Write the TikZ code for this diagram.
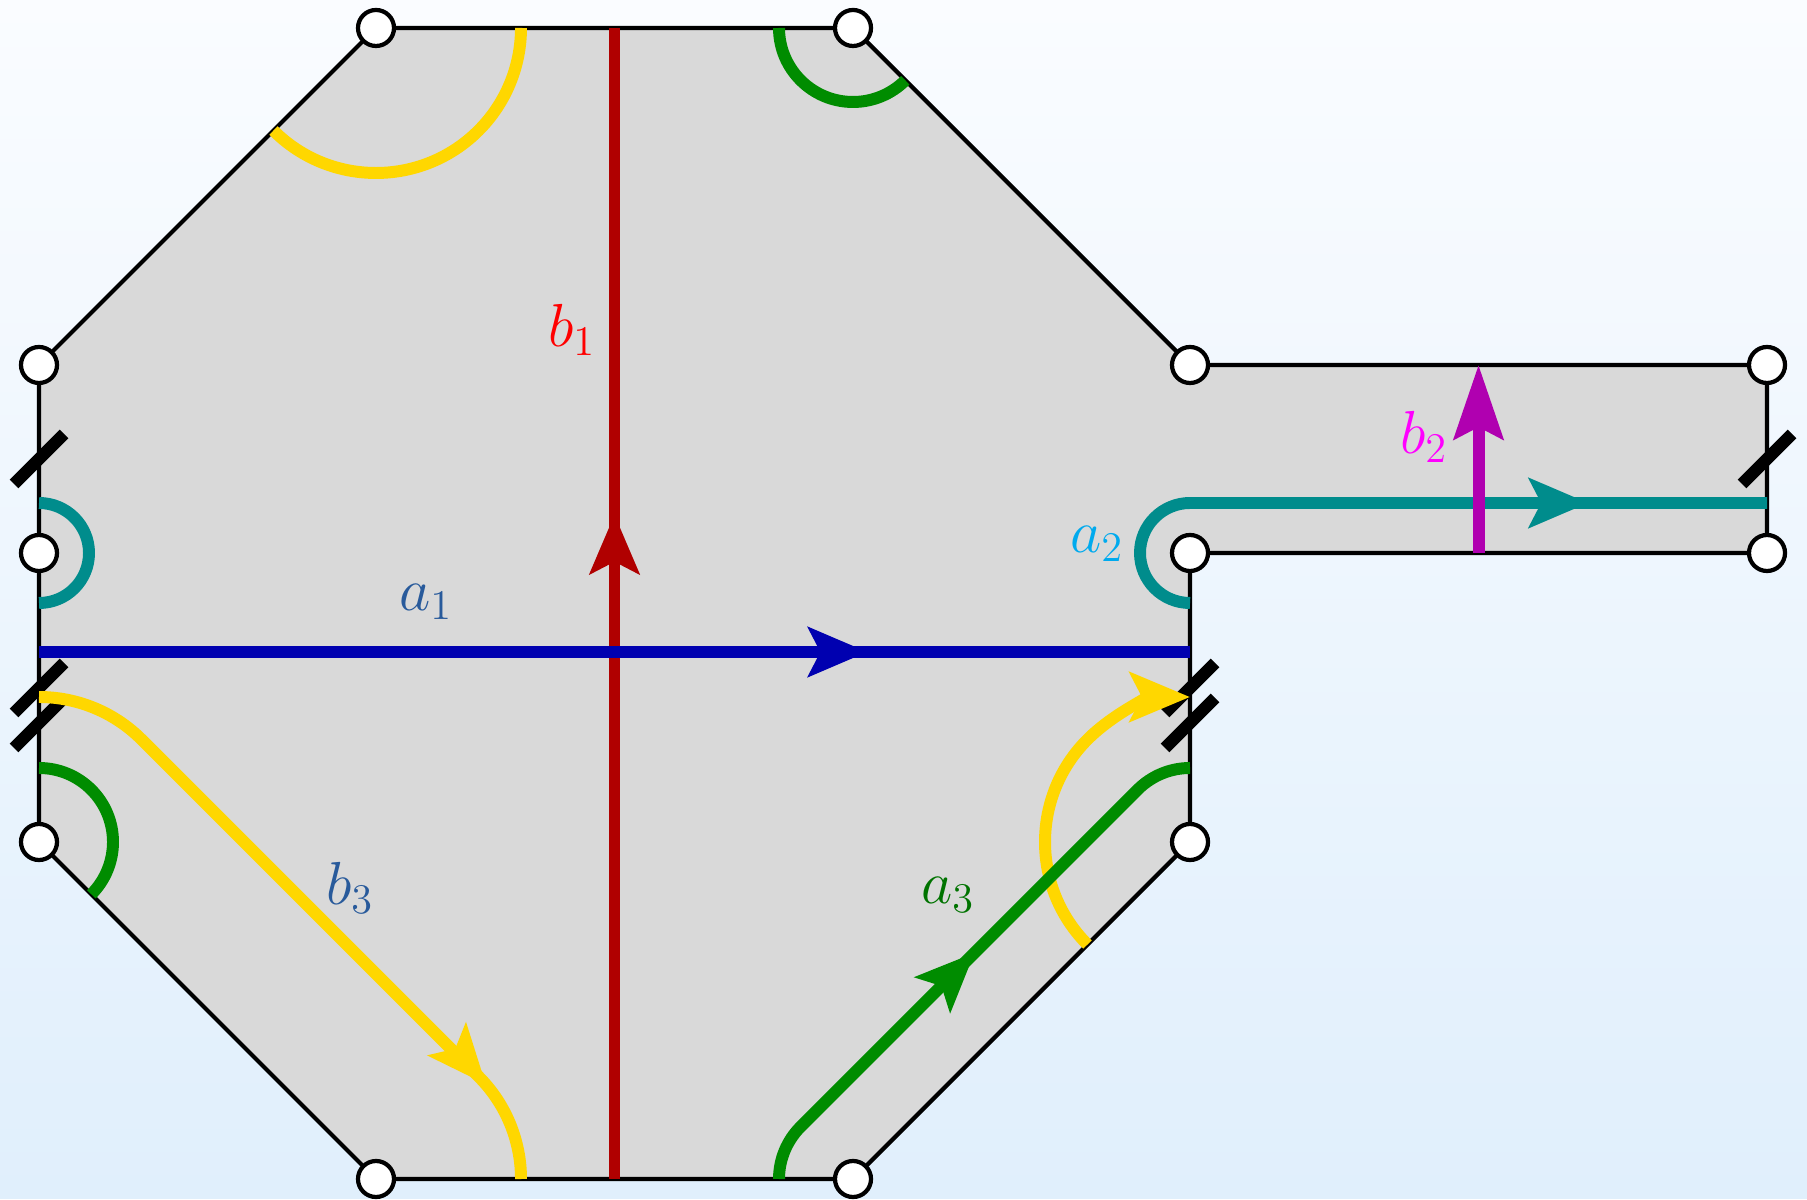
\documentclass[tikz,border=0pt]{standalone}
\usetikzlibrary{arrows.meta,calc,decorations.markings}
\definecolor{bgtop}{RGB}{250,252,255}
\definecolor{bgbot}{RGB}{224,239,252}
\definecolor{surf}{RGB}{217,217,217}
\definecolor{redl}{RGB}{176,0,0}
\definecolor{bluel}{RGB}{0,0,176}
\definecolor{tealc}{RGB}{0,140,140}
\definecolor{magl}{RGB}{176,0,176}
\definecolor{yel}{RGB}{255,215,0}
\definecolor{grn}{RGB}{0,140,0}
\definecolor{txtred}{RGB}{255,0,0}
\definecolor{txtmag}{RGB}{255,0,255}
\definecolor{txtblue}{RGB}{40,90,155}
\definecolor{txtcyan}{RGB}{0,170,238}
\definecolor{txtgreen}{RGB}{0,115,0}

\begin{document}
\begin{tikzpicture}[x=0.01cm,y=0.01cm,
  edge/.style={draw=black,line width=1.2pt,line join=round},
  curve/.style={line width=3.4pt},
  tick/.style={line width=3.5pt},
  vtx/.style={circle,draw,fill=white,line width=1.2pt,inner sep=0pt,minimum size=0.36cm},
  lbl/.style={inner sep=0pt,font=\fontsize{17}{20}\selectfont},
  Flow/.tip={Stealth[length=5.9mm,width=4.9mm,inset=1.2mm]},
  mid/.style={postaction={decorate},decoration={markings,mark=at position #1 with {\arrow{Flow}}}}]
\shade[top color=bgtop,bottom color=bgbot] (0,0) rectangle (1807,1198);

% corners of the surface
\coordinate (A) at (376,1170); \coordinate (B) at (853,1170);
\coordinate (C) at (39,833);   \coordinate (D) at (1190,833);
\coordinate (E) at (1767,833); \coordinate (F) at (1767,645);
\coordinate (G) at (1190,645); \coordinate (H) at (39,645);
\coordinate (I) at (39,356);   \coordinate (J) at (1190,356);
\coordinate (K) at (376,19);   \coordinate (L) at (853,19);

\fill[surf] (A)--(B)--(D)--(E)--(F)--(G)--(J)--(L)--(K)--(I)--(H)--(C)--cycle;
\draw[edge] (A)--(B)--(D)--(E)--(F)--(G)--(J)--(L)--(K)--(I)--(H)--(C)--cycle;

% gluing marks
\foreach \x/\y in {39/739,1767/739,39/510,39/475,1190/510,1190/475}
  \draw[tick] (\x-25,\y-25) -- (\x+25,\y+25);

% b3
\draw[curve,yel] (A) ++(225:145) arc[start angle=225,end angle=360,radius=145];
\draw[curve,yel,mid=6.0cm] (I) ++(0,145) arc[start angle=90,end angle=45,radius=145]
  -- ($(K)+(45:145)$) arc[start angle=45,end angle=0,radius=145];
\draw[curve,yel,-{Stealth[length=6mm,width=4.9mm,inset=1.2mm]}] (J) ++(225:145) arc[start angle=225,end angle=90,radius=145];
% a3
\draw[curve,grn] (B) ++(-74,0) arc[start angle=180,end angle=315,radius=74];
\draw[curve,grn] (I) ++(0,74) arc[start angle=90,end angle=-45,radius=74];
\draw[curve,grn,mid=3.04cm] (L) ++(-74,0) arc[start angle=180,end angle=135,radius=74]
  -- ($(J)+(135:74)$) arc[start angle=135,end angle=90,radius=74];
% a2, b2
\draw[curve,tealc] (H) ++(0,50) arc[start angle=90,end angle=-90,radius=50];
\draw[curve,tealc,mid=5.55cm] (G) ++(0,-50) arc[start angle=270,end angle=90,radius=50] -- (1767,695);
\draw[curve,magl,-{Stealth[length=7.4mm,width=4.9mm,inset=1.2mm]}] ($(G)!0.5!(F)$) -- ($(D)!0.5!(E)$);
% b1, a1
\draw[curve,redl,mid=6.64cm] ($(K)!0.5!(L)$) -- ($(A)!0.5!(B)$);
\draw[curve,bluel,mid=8.28cm] (39,546) -- (1190,546);

\node[lbl,text=txtred] (lb1) at (572,868) {$b_1$};
\node[lbl,text=txtblue] (la1) at (426,596) {$a_1$};
\node[lbl,text=txtcyan] (la2) at (1097,654) {$a_2$};
\node[lbl,text=txtmag] (lb2) at (1424,761) {$b_2$};
\node[lbl,text=txtblue] (lb3) at (350,310) {$b_3$};
\node[lbl,text=txtgreen] (la3) at (948,303) {$a_3$};

\foreach \v in {A,B,C,D,E,F,G,H,I,J,K,L}
  \node[vtx] (n\v) at (\v) {};
\end{tikzpicture}
\end{document}
